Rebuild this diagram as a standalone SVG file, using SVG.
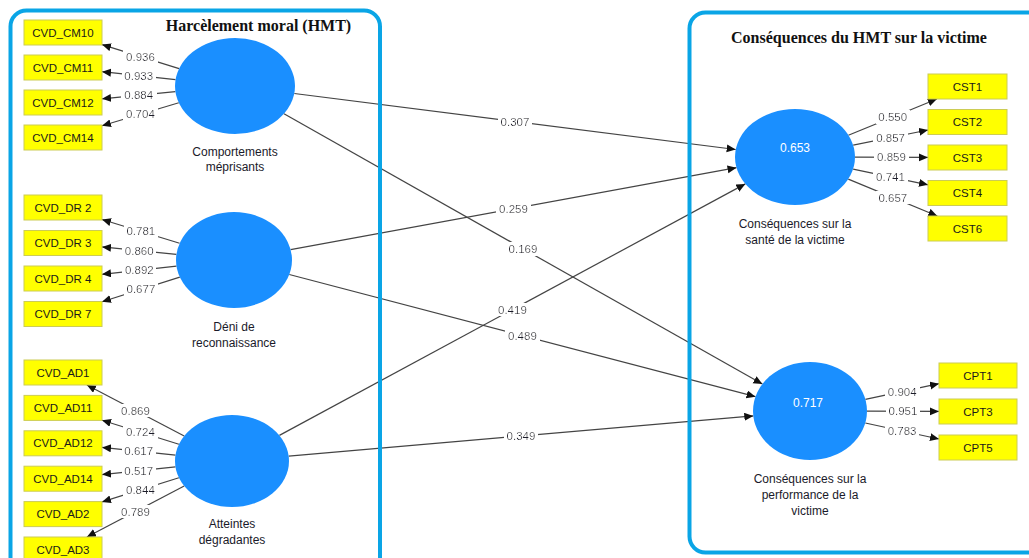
<svg xmlns="http://www.w3.org/2000/svg" width="1029" height="558" viewBox="0 0 1029 558">
<style>
.frame{fill:none;stroke:#0aa5e6;stroke-width:4}
.title{font-family:"Liberation Serif","Times New Roman",serif;font-weight:bold;font-size:16px;fill:#111;text-anchor:middle}
.lv{fill:#1a8fff}
.lvv{font-family:"Liberation Sans",Arial,sans-serif;font-size:12px;fill:#fff;text-anchor:middle}
.nl{font-family:"Liberation Sans",Arial,sans-serif;font-size:12px;fill:#1a1a2a;text-anchor:middle}
.box{fill:#ffff00;stroke:#cccc55;stroke-width:1}
.bt{font-family:"Liberation Sans",Arial,sans-serif;font-size:11.5px;fill:#1a1a1a;text-anchor:middle}
.cn{stroke:#444;stroke-width:1.2;fill:none;marker-end:url(#ah)}
.cl{font-family:"Liberation Sans",Arial,sans-serif;font-size:11.5px;fill:#1a1a2a;text-anchor:middle;filter:url(#bg)}
</style>
<defs>
<marker id="ah" markerWidth="10" markerHeight="10" refX="9" refY="4" orient="auto" markerUnits="userSpaceOnUse"><path d="M0,0 L9,4 L0,8 z" fill="#111"/></marker>
<filter id="bg" x="-0.08" y="-0.02" width="1.16" height="1.04"><feFlood flood-color="#fff"/><feMerge><feMergeNode/><feMergeNode in="SourceGraphic"/></feMerge></filter>
</defs>
<rect width="1029" height="558" fill="#fff"/>
<g id="connectors">
<line class="cn" x1="179.1" y1="68.6" x2="102" y2="44.6"/>
<line class="cn" x1="175.5" y1="79.6" x2="102" y2="71.7"/>
<line class="cn" x1="175.4" y1="91.7" x2="102" y2="98.8"/>
<line class="cn" x1="178.8" y1="102.8" x2="102" y2="125.8"/>
<line class="cn" x1="179.6" y1="243.3" x2="102" y2="219.5"/>
<line class="cn" x1="176.4" y1="254.3" x2="102" y2="246.9"/>
<line class="cn" x1="176.5" y1="266.2" x2="102" y2="274.3"/>
<line class="cn" x1="179.8" y1="277.1" x2="102" y2="301.7"/>
<line class="cn" x1="184.2" y1="436" x2="86.9" y2="385"/>
<line class="cn" x1="178.9" y1="444.3" x2="102" y2="420.2"/>
<line class="cn" x1="175.5" y1="455.1" x2="102" y2="447.4"/>
<line class="cn" x1="175.5" y1="466.9" x2="102" y2="474.6"/>
<line class="cn" x1="178.9" y1="477.7" x2="102" y2="501.9"/>
<line class="cn" x1="184.2" y1="486" x2="86.9" y2="537"/>
<line class="cn" x1="848.4" y1="135.2" x2="936.9" y2="99"/>
<line class="cn" x1="853.2" y1="145.2" x2="928" y2="130"/>
<line class="cn" x1="855" y1="157.2" x2="928" y2="157.4"/>
<line class="cn" x1="853.1" y1="169.1" x2="928" y2="184.8"/>
<line class="cn" x1="848.3" y1="179.1" x2="937.3" y2="216"/>
<line class="cn" x1="865.4" y1="399.3" x2="939" y2="383.7"/>
<line class="cn" x1="867" y1="411.2" x2="939" y2="411.4"/>
<line class="cn" x1="865.3" y1="423" x2="939" y2="439"/>
<line class="cn" x1="294.3" y1="93.5" x2="735.7" y2="149.5"/>
<line class="cn" x1="290.6" y1="249.6" x2="736.5" y2="167.7"/>
<line class="cn" x1="279.4" y1="435.4" x2="745.3" y2="183.9"/>
<line class="cn" x1="284" y1="113.7" x2="762.4" y2="384.1"/>
<line class="cn" x1="289.3" y1="274.5" x2="755.5" y2="396.7"/>
<line class="cn" x1="288.7" y1="456.1" x2="753.3" y2="415.9"/>
<text class="cl" x="140.5" y="60.6">0.936</text>
<text class="cl" x="138.7" y="79.7">0.933</text>
<text class="cl" x="138.7" y="99.2">0.884</text>
<text class="cl" x="140.4" y="118.3">0.704</text>
<text class="cl" x="140.8" y="235.4">0.781</text>
<text class="cl" x="139.2" y="254.6">0.860</text>
<text class="cl" x="139.3" y="274.3">0.892</text>
<text class="cl" x="140.9" y="293.4">0.677</text>
<text class="cl" x="135.5" y="414.5">0.869</text>
<text class="cl" x="140.4" y="436.3">0.724</text>
<text class="cl" x="138.7" y="455.3">0.617</text>
<text class="cl" x="138.7" y="474.8">0.517</text>
<text class="cl" x="140.4" y="493.8">0.844</text>
<text class="cl" x="135.5" y="515.5">0.789</text>
<text class="cl" x="892.7" y="121.1">0.550</text>
<text class="cl" x="890.6" y="141.6">0.857</text>
<text class="cl" x="891.5" y="161.3">0.859</text>
<text class="cl" x="890.5" y="181">0.741</text>
<text class="cl" x="892.8" y="201.6">0.657</text>
<text class="cl" x="902.2" y="395.5">0.904</text>
<text class="cl" x="903" y="415.3">0.951</text>
<text class="cl" x="902.1" y="435">0.783</text>
<text class="cl" x="515" y="125.5">0.307</text>
<text class="cl" x="513.5" y="212.7">0.259</text>
<text class="cl" x="512.4" y="313.6">0.419</text>
<text class="cl" x="523" y="253">0.169</text>
<text class="cl" x="522.4" y="339.6">0.489</text>
<text class="cl" x="521" y="440">0.349</text>
</g>
<g id="frame-hmt">
<rect class="frame" x="10.5" y="10.5" width="369.5" height="570" rx="16"/>
<text class="title" x="258.5" y="31">Harcèlement moral (HMT)</text>
</g>
<g id="frame-consequences">
<rect class="frame" x="689.5" y="12.5" width="400" height="540" rx="16"/>
<text class="title" x="859" y="43">Conséquences du HMT sur la victime</text>
</g>
<g id="node-cm">
<ellipse class="lv" cx="235" cy="86" rx="60" ry="48"/>
<text class="nl" x="235" y="156">Comportements</text>
<text class="nl" x="235" y="171">méprisants</text>
</g>
<g id="node-dr">
<ellipse class="lv" cx="234" cy="260" rx="58" ry="48"/>
<text class="nl" x="234" y="331">Déni de</text>
<text class="nl" x="234" y="347">reconnaissance</text>
</g>
<g id="node-ad">
<ellipse class="lv" cx="232" cy="461" rx="57" ry="46"/>
<text class="nl" x="232" y="528">Atteintes</text>
<text class="nl" x="232" y="544">dégradantes</text>
</g>
<g id="node-cs">
<ellipse class="lv" cx="795" cy="157" rx="60" ry="48"/>
<text class="lvv" x="795" y="152">0.653</text>
<text class="nl" x="795" y="228">Conséquences sur la</text>
<text class="nl" x="795" y="244">santé de la victime</text>
</g>
<g id="node-cp">
<ellipse class="lv" cx="810" cy="411" rx="57" ry="49"/>
<text class="lvv" x="808" y="407">0.717</text>
<text class="nl" x="810" y="483">Conséquences sur la</text>
<text class="nl" x="810" y="499">performance de la</text>
<text class="nl" x="810" y="515">victime</text>
</g>
<g id="ind-cm10"><rect class="box" x="24" y="20" width="78" height="25"/><text class="bt" x="63" y="36.5">CVD_CM10</text></g>
<g id="ind-cm11"><rect class="box" x="24" y="55" width="78" height="25"/><text class="bt" x="63" y="71.5">CVD_CM11</text></g>
<g id="ind-cm12"><rect class="box" x="24" y="90" width="78" height="25"/><text class="bt" x="63" y="106.5">CVD_CM12</text></g>
<g id="ind-cm14"><rect class="box" x="24" y="125" width="78" height="25"/><text class="bt" x="63" y="141.5">CVD_CM14</text></g>
<g id="ind-dr2"><rect class="box" x="24" y="195" width="78" height="25"/><text class="bt" x="63" y="211.5">CVD_DR 2</text></g>
<g id="ind-dr3"><rect class="box" x="24" y="230.5" width="78" height="25"/><text class="bt" x="63" y="247">CVD_DR 3</text></g>
<g id="ind-dr4"><rect class="box" x="24" y="266" width="78" height="25"/><text class="bt" x="63" y="282.5">CVD_DR 4</text></g>
<g id="ind-dr7"><rect class="box" x="24" y="301.5" width="78" height="25"/><text class="bt" x="63" y="318">CVD_DR 7</text></g>
<g id="ind-ad1"><rect class="box" x="24" y="360" width="78" height="25"/><text class="bt" x="63" y="376.5">CVD_AD1</text></g>
<g id="ind-ad11"><rect class="box" x="24" y="395.4" width="78" height="25"/><text class="bt" x="63" y="411.9">CVD_AD11</text></g>
<g id="ind-ad12"><rect class="box" x="24" y="430.8" width="78" height="25"/><text class="bt" x="63" y="447.3">CVD_AD12</text></g>
<g id="ind-ad14"><rect class="box" x="24" y="466.2" width="78" height="25"/><text class="bt" x="63" y="482.7">CVD_AD14</text></g>
<g id="ind-ad2"><rect class="box" x="24" y="501.6" width="78" height="25"/><text class="bt" x="63" y="518.1">CVD_AD2</text></g>
<g id="ind-ad3"><rect class="box" x="24" y="537" width="78" height="25"/><text class="bt" x="63" y="553.5">CVD_AD3</text></g>
<g id="ind-cst1"><rect class="box" x="928" y="74" width="79" height="25"/><text class="bt" x="967.5" y="90.5">CST1</text></g>
<g id="ind-cst2"><rect class="box" x="928" y="109.5" width="79" height="25"/><text class="bt" x="967.5" y="126">CST2</text></g>
<g id="ind-cst3"><rect class="box" x="928" y="145" width="79" height="25"/><text class="bt" x="967.5" y="161.5">CST3</text></g>
<g id="ind-cst4"><rect class="box" x="928" y="180.5" width="79" height="25"/><text class="bt" x="967.5" y="197">CST4</text></g>
<g id="ind-cst6"><rect class="box" x="928" y="216" width="79" height="25"/><text class="bt" x="967.5" y="232.5">CST6</text></g>
<g id="ind-cpt1"><rect class="box" x="939" y="363" width="78" height="25"/><text class="bt" x="978" y="379.5">CPT1</text></g>
<g id="ind-cpt3"><rect class="box" x="939" y="399" width="78" height="25"/><text class="bt" x="978" y="415.5">CPT3</text></g>
<g id="ind-cpt5"><rect class="box" x="939" y="435" width="78" height="25"/><text class="bt" x="978" y="451.5">CPT5</text></g>
</svg>
